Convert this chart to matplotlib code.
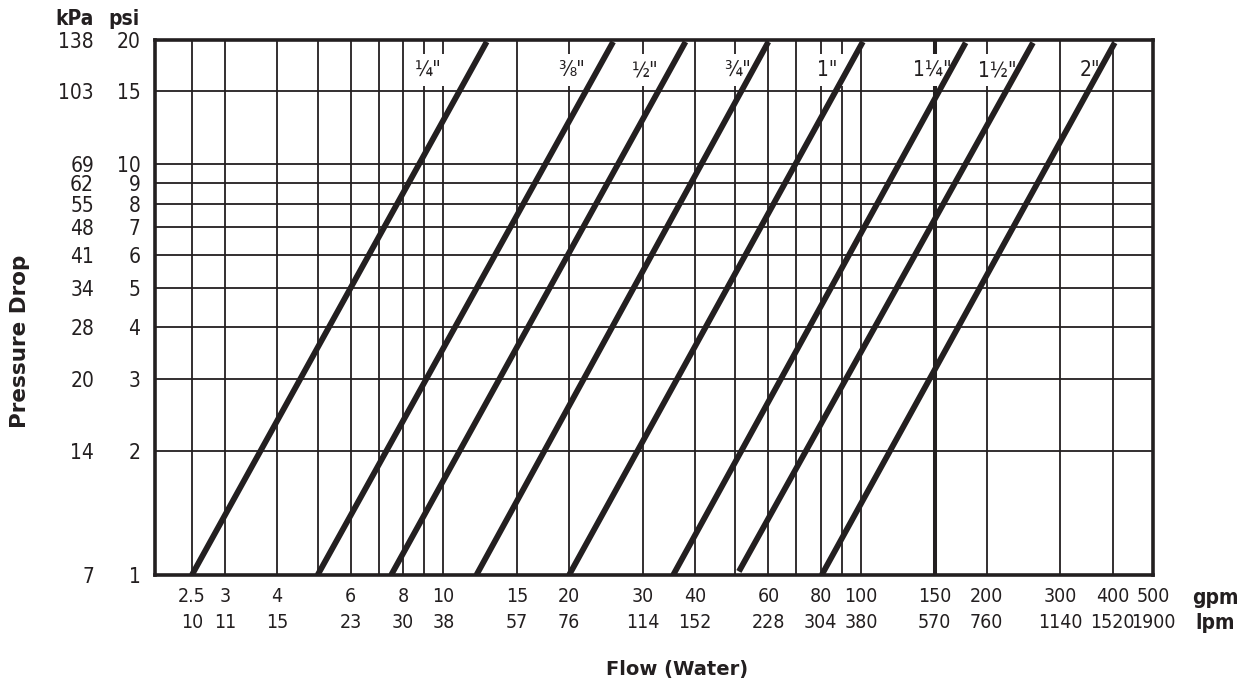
import numpy as np
import matplotlib
matplotlib.use('Agg')
import matplotlib.pyplot as plt
import matplotlib.transforms as mtransforms
from matplotlib.ticker import NullLocator
from matplotlib import font_manager

INK = '#231f20'

# pick a condensed face if one is installed
names = {f.name for f in font_manager.fontManager.ttflist}
condensed = [f for f in font_manager.fontManager.ttflist
             if f.name == 'DejaVu Sans' and 'ondensed' in str(f.stretch) + f.fname]
if 'Liberation Sans Narrow' in names:
    NARROW = dict(family=['Liberation Sans Narrow', 'DejaVu Sans'])
elif condensed:
    NARROW = dict(family=['DejaVu Sans'], stretch='condensed')
else:
    NARROW = dict(family=['Liberation Sans', 'DejaVu Sans'])

# pipe sizes and their straight (log-log) pressure drop lines
sizes = ['¼"', '⅜"', '½"', '¾"', '1"', '1¼"', '1½"', '2"']
flow_start_gpm = [2.5, 5.0, 7.5, 12.0, 20.0, 35.5, 51.0, 80.5]
flow_end_gpm = [12.7, 25.5, 38.0, 60.0, 101.0, 178.0, 258.0, 405.0]
drop_start_psi = [1.0, 1.0, 1.0, 1.0, 1.0, 1.0, 1.02, 1.0]
drop_end_psi = [19.8, 19.8, 19.8, 19.8, 19.8, 19.7, 19.7, 19.7]
label_gpm = [9.2, 20.3, 30.4, 50.5, 83.0, 148.0, 212.0, 354.0]
label_psi = 16.9

# axis ticks
gpm_ticks = [2.5, 3, 4, 6, 8, 10, 15, 20, 30, 40, 60, 80, 100, 150, 200, 300, 400, 500]
lpm_ticks = [10, 11, 15, 23, 30, 38, 57, 76, 114, 152, 228, 304, 380, 570, 760, 1140, 1520, 1900]
gpm_grid = [2.5, 3, 4, 5, 6, 7, 8, 9, 10, 15, 20, 30, 40, 50, 60, 70, 80, 90, 100, 200, 300, 400]
psi_ticks = [1, 2, 3, 4, 5, 6, 7, 8, 9, 10, 15, 20]
kpa_ticks = [7, 14, 20, 28, 34, 41, 48, 55, 62, 69, 103, 138]

W, H = 1242, 681
fig = plt.figure(figsize=(W / 100, H / 100), dpi=100)
ax = fig.add_axes([155 / W, 1 - 575 / H, 998 / W, 535 / H])
ax.set_xscale('log')
ax.set_yscale('log')
ax.set_xlim(2.04, 500)
ax.set_ylim(1, 20)

# grid
for g in gpm_grid:
    ax.axvline(g, color=INK, lw=1.3, zorder=1)
ax.axvline(150, color=INK, lw=2.9, zorder=1)
for p in psi_ticks[1:-1]:
    ax.axhline(p, color=INK, lw=1.3, zorder=1)

# size labels with white patches over the grid
for i, s in enumerate(sizes):
    ax.text(label_gpm[i], label_psi, s, ha='center', va='center', fontsize=15,
            color=INK, zorder=2, **NARROW,
            bbox=dict(boxstyle='square,pad=0.3', fc='white', ec='none'))

# pressure drop lines
for i in range(len(sizes)):
    ax.plot([flow_start_gpm[i], flow_end_gpm[i]], [drop_start_psi[i], drop_end_psi[i]],
            color=INK, lw=4.2, solid_capstyle='butt', zorder=3)

for sp in ax.spines.values():
    sp.set_linewidth(2.6)
    sp.set_color(INK)
    sp.set_zorder(4)

ax.xaxis.set_minor_locator(NullLocator())
ax.yaxis.set_minor_locator(NullLocator())
ax.set_xticks(gpm_ticks)
ax.set_xticklabels([f'{g:g}\n{l}' for g, l in zip(gpm_ticks, lpm_ticks)],
                   fontsize=14, color=INK, linespacing=1.45, **NARROW)
ax.set_yticks(psi_ticks)
ax.set_yticklabels([str(p) for p in psi_ticks], fontsize=15, color=INK, **NARROW)
ax.tick_params(axis='x', length=0, pad=9)
ax.tick_params(axis='y', length=0, pad=10.5)

trans = mtransforms.blended_transform_factory(ax.transAxes, ax.transData)
for p, k in zip(psi_ticks, kpa_ticks):
    ax.text(-61 / 998, p, str(k), transform=trans, ha='right', va='center_baseline',
            fontsize=15, color=INK, **NARROW)

fig.text(94 / W, 1 - 19 / H, 'kPa', ha='right', va='center', fontsize=15,
         weight='bold', color=INK, **NARROW)
fig.text(140 / W, 1 - 19 / H, 'psi', ha='right', va='center', fontsize=15,
         weight='bold', color=INK, **NARROW)
fig.text(1215 / W, 1 - 598 / H, 'gpm', ha='center', va='center', fontsize=15,
         weight='bold', color=INK, **NARROW)
fig.text(1215 / W, 1 - 623 / H, 'lpm', ha='center', va='center', fontsize=15,
         weight='bold', color=INK, **NARROW)

fig.text(677 / W, 1 - 669 / H, 'Flow (Water)', ha='center', va='center', fontsize=14,
         family='DejaVu Sans', weight='bold', color=INK)
fig.text(20 / W, 1 - 341 / H, 'Pressure Drop', ha='center', va='center', fontsize=15.5,
         family='DejaVu Sans', weight='bold', color=INK, rotation=90)

fig.savefig('out.png', dpi=100)
